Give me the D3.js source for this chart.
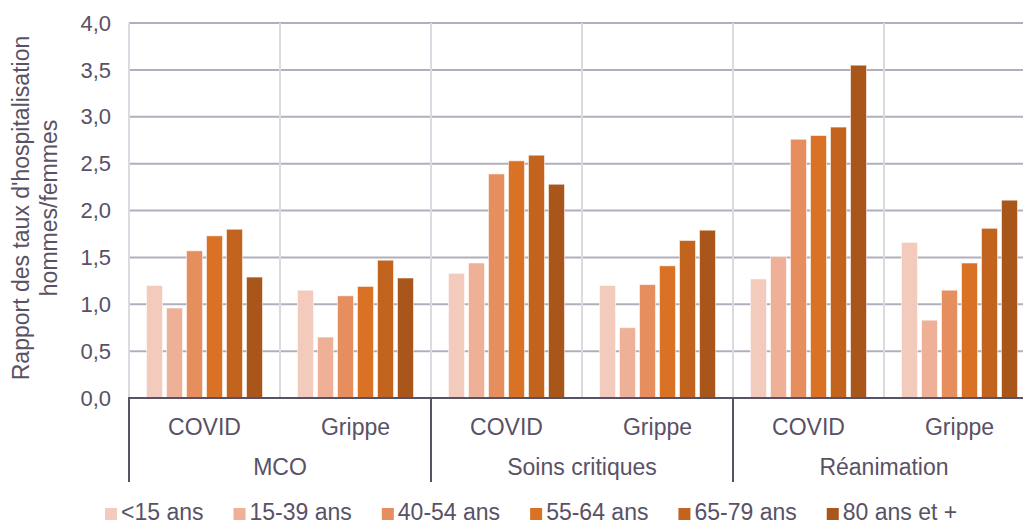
<!DOCTYPE html>
<html>
<head>
<meta charset="utf-8">
<script src="https://cdn.jsdelivr.net/npm/d3@7"></script>
<style>
  body { margin: 0; background: #fff; }
  text { font-family: "Liberation Sans", Arial, sans-serif; fill: #595165; }
</style>
</head>
<body>
<div id="chart"></div>
<script>
// categories
var groups = ["MCO", "Soins critiques", "Réanimation"];
var subgroups = ["COVID", "Grippe"];
var ages = ["<15 ans", "15-39 ans", "40-54 ans", "55-64 ans", "65-79 ans", "80 ans et +"];
var yTicks = [0, 0.5, 1, 1.5, 2, 2.5, 3, 3.5, 4];

// values per age, in order MCO COVID, MCO Grippe, SC COVID, SC Grippe, Réa COVID, Réa Grippe
var under15 = [1.20, 1.15, 1.33, 1.20, 1.27, 1.66];
var age15_39 = [0.96, 0.65, 1.44, 0.75, 1.51, 0.83];
var age40_54 = [1.57, 1.09, 2.39, 1.21, 2.76, 1.15];
var age55_64 = [1.73, 1.19, 2.53, 1.41, 2.80, 1.44];
var age65_79 = [1.80, 1.47, 2.59, 1.68, 2.89, 1.81];
var age80 = [1.29, 1.28, 2.28, 1.79, 3.55, 2.11];

var series = [under15, age15_39, age40_54, age55_64, age65_79, age80];
var colors = ["#F3CBBD", "#EEB097", "#E68E5E", "#DA7226", "#C2641E", "#A9561A"];

var W = 1023, H = 525;
var margin = {top: 23, left: 129, bottom: 127};
var plotRight = 1035;
var baseY = H - margin.bottom;
var fs = "23px";

var svg = d3.select("#chart").append("svg")
  .attr("width", W).attr("height", H);

// build rows
var rows = [];
groups.forEach(function(g, gi) {
  subgroups.forEach(function(s, si) {
    var idx = gi * 2 + si;
    rows.push({group: g, sub: s, key: g + "|" + s,
      values: ages.map(function(a, ai) { return {age: a, ai: ai, v: series[ai][idx]}; })});
  });
});

var x0 = d3.scaleBand().domain(groups).range([margin.left, plotRight]);
var xs = d3.scaleBand().domain(rows.map(d => d.key)).range([margin.left, plotRight]);
var x1 = d3.scaleBand().domain(ages).range([0, xs.bandwidth()]).paddingInner(0.2).paddingOuter(0.875);
var y = d3.scaleLinear().domain([0, 4]).range([baseY, margin.top]);

// horizontal grid
svg.append("g").selectAll("line")
  .data(yTicks.filter(d => d > 0))
  .enter().append("line")
  .attr("x1", margin.left).attr("x2", W)
  .attr("y1", d => y(d)).attr("y2", d => y(d))
  .attr("stroke", "#B3AEBE").attr("stroke-width", 2);

// vertical light separators
svg.append("g").selectAll("line")
  .data(rows)
  .enter().append("line")
  .attr("x1", d => xs(d.key)).attr("x2", d => xs(d.key))
  .attr("y1", margin.top).attr("y2", baseY)
  .attr("stroke", "#DCD9E2").attr("stroke-width", 2);

// y tick labels
svg.append("g").selectAll("text")
  .data(yTicks)
  .enter().append("text")
  .attr("x", 111).attr("y", d => y(d))
  .attr("dy", "0.35em")
  .attr("text-anchor", "end")
  .style("font-size", "22px")
  .text(d => d3.format(".1f")(d).replace(".", ","));

// bars
var rowG = svg.append("g").selectAll("g")
  .data(rows)
  .enter().append("g")
  .attr("transform", d => "translate(" + xs(d.key) + ",0)");

rowG.selectAll("rect")
  .data(d => d.values)
  .enter().append("rect")
  .attr("x", d => x1(d.age))
  .attr("width", x1.bandwidth())
  .attr("y", d => y(d.v))
  .attr("height", d => baseY - y(d.v))
  .attr("fill", d => colors[d.ai])
  .attr("stroke", "rgba(255,255,255,0.55)")
  .attr("stroke-width", 1);

// baseline
svg.append("line")
  .attr("x1", margin.left - 1).attr("x2", W)
  .attr("y1", baseY).attr("y2", baseY)
  .attr("stroke", "#595165").attr("stroke-width", 2);

// group separators below axis
var seps = groups.map(g => x0(g)).concat([plotRight]);
svg.append("g").selectAll("line")
  .data(seps)
  .enter().append("line")
  .attr("x1", d => d).attr("x2", d => d)
  .attr("y1", baseY).attr("y2", 482)
  .attr("stroke", "#595165").attr("stroke-width", 2);

// subcategory labels
svg.append("g").selectAll("text")
  .data(rows)
  .enter().append("text")
  .attr("x", d => xs(d.key) + xs.bandwidth() / 2)
  .attr("y", 435)
  .attr("text-anchor", "middle")
  .style("font-size", fs)
  .text(d => d.sub);

// group labels
svg.append("g").selectAll("text")
  .data(groups)
  .enter().append("text")
  .attr("x", d => x0(d) + x0.bandwidth() / 2)
  .attr("y", 475)
  .attr("text-anchor", "middle")
  .style("font-size", fs)
  .text(d => d);

// y axis title
var yt = svg.append("text")
  .attr("transform", "translate(29," + 208 + ") rotate(-90)")
  .attr("text-anchor", "middle")
  .style("font-size", fs);
yt.append("tspan").attr("x", 0).attr("dy", 0).text("Rapport des taux d'hospitalisation");
yt.append("tspan").attr("x", 0).attr("dy", 28).text("hommes/femmes");

// legend
var leg = svg.append("g");
var lx = 105;
ages.forEach(function(a, i) {
  leg.append("rect")
    .attr("x", lx).attr("y", 508)
    .attr("width", 12).attr("height", 12)
    .attr("fill", colors[i]);
  var t = leg.append("text")
    .attr("x", lx + 16).attr("y", 520)
    .style("font-size", fs)
    .text(a);
  lx += 16 + t.node().getComputedTextLength() + 30;
});
</script>
</body>
</html>
